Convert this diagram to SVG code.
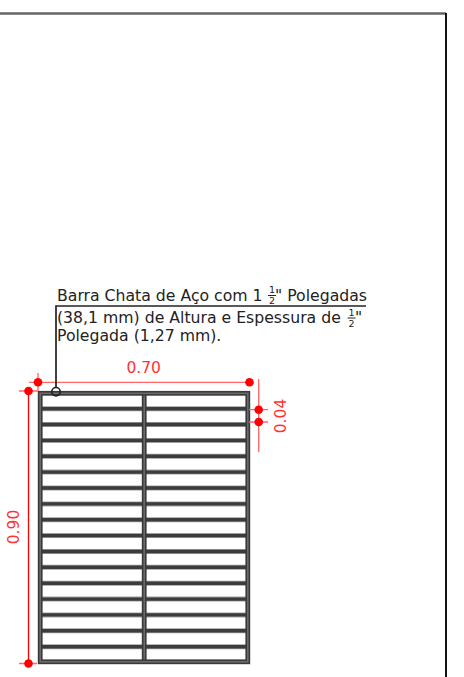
<svg xmlns="http://www.w3.org/2000/svg" width="464" height="677" viewBox="0 0 464 677">
<style>
.t{font-family:"DejaVu Sans",Verdana,sans-serif;font-size:15.7px;fill:#222}
.f{font-family:"DejaVu Sans",Verdana,sans-serif;font-size:9.500px;fill:#222;text-anchor:middle}
.d{font-family:"DejaVu Sans",Verdana,sans-serif;font-size:15.500px;fill:#f33;text-anchor:middle}
.r{stroke:#f00;stroke-width:1.300;fill:none}
.rl{stroke:#f66;stroke-width:1.300;fill:none}
.b{stroke:#3a3a3a;stroke-width:4.800;fill:none}
.bi{stroke:#6a6a6a;stroke-width:1.600;fill:none}
.bar{stroke:#a0a0a0;stroke-width:5;fill:none}
.bard{stroke:#3c3c3c;stroke-width:3.400;fill:none}
.k{stroke:#222;stroke-width:1.700;fill:none}
circle.p{fill:#f00}
</style>
<rect width="464" height="677" fill="#fff"/>
<g id="frame"><path d="M0 13.500H446" stroke="#666" stroke-width="2.400" fill="none"/><path d="M446 13V677" stroke="#111" stroke-width="2" fill="none"/></g>
<g id="grating">
<path class="bar" d="M40 408.700H247M40 424.500H247M40 440.400H247M40 456.300H247M40 472.100H247M40 488H247M40 503.900H247M40 519.700H247M40 535.600H247M40 551.500H247M40 567.300H247M40 583.200H247M40 599.100H247M40 614.900H247M40 630.800H247M40 646.700H247"/>
<path class="bard" d="M40 408.700H247M40 424.500H247M40 440.400H247M40 456.300H247M40 472.100H247M40 488H247M40 503.900H247M40 519.700H247M40 535.600H247M40 551.500H247M40 567.300H247M40 583.200H247M40 599.100H247M40 614.900H247M40 630.800H247M40 646.700H247"/>
<path class="b" d="M144.200 393V662"/>
<path class="bi" d="M144.200 393V662"/>
<rect class="b" x="40.200" y="393.300" width="207.600" height="268.500"/>
<rect class="bi" x="40.200" y="393.300" width="207.600" height="268.500"/>
</g>
<g id="dimensions">
<path class="rl" d="M29 382.300H249M38 373V391M19 391H38M258.700 379V452M249 409.700H268M249 422H268M19 663.500H37"/>
<path class="r" d="M28.500 391V663"/>
<circle class="p" cx="38" cy="382.300" r="4.300"/><circle class="p" cx="249.500" cy="382.300" r="4.300"/>
<circle class="p" cx="28.500" cy="391" r="4.300"/><circle class="p" cx="28.500" cy="663.500" r="4.300"/>
<circle class="p" cx="258.700" cy="409.700" r="4.300"/><circle class="p" cx="258.700" cy="422" r="4.300"/>
<text class="d" x="143.700" y="373">0.70</text>
<text class="d" transform="translate(286 416) rotate(-90)">0.04</text>
<text class="d" transform="translate(19 527) rotate(-90)">0.90</text>
</g>
<g id="label">
<path class="k" d="M366 306H56V387.500"/>
<circle cx="56" cy="391.700" r="4.200" fill="none" stroke="#222" stroke-width="1.700"/>
<text class="t" x="57" y="301">Barra Chata de Aço com 1</text>
<text class="f" x="272" y="293">1</text><path d="M268 295.500H276" stroke="#222"/><text class="f" x="272" y="304">2</text>
<text class="t" x="275" y="301">" Polegadas</text>
<text class="t" x="57" y="322.700">(38,1 mm) de Altura e Espessura de</text>
<text class="f" x="351.500" y="315.500">1</text><path d="M347.500 318H355.500" stroke="#222"/><text class="f" x="351.500" y="327">2</text>
<text class="t" x="355" y="322.700">"</text>
<text class="t" x="57" y="341">Polegada (1,27 mm).</text>
</g>
</svg>
